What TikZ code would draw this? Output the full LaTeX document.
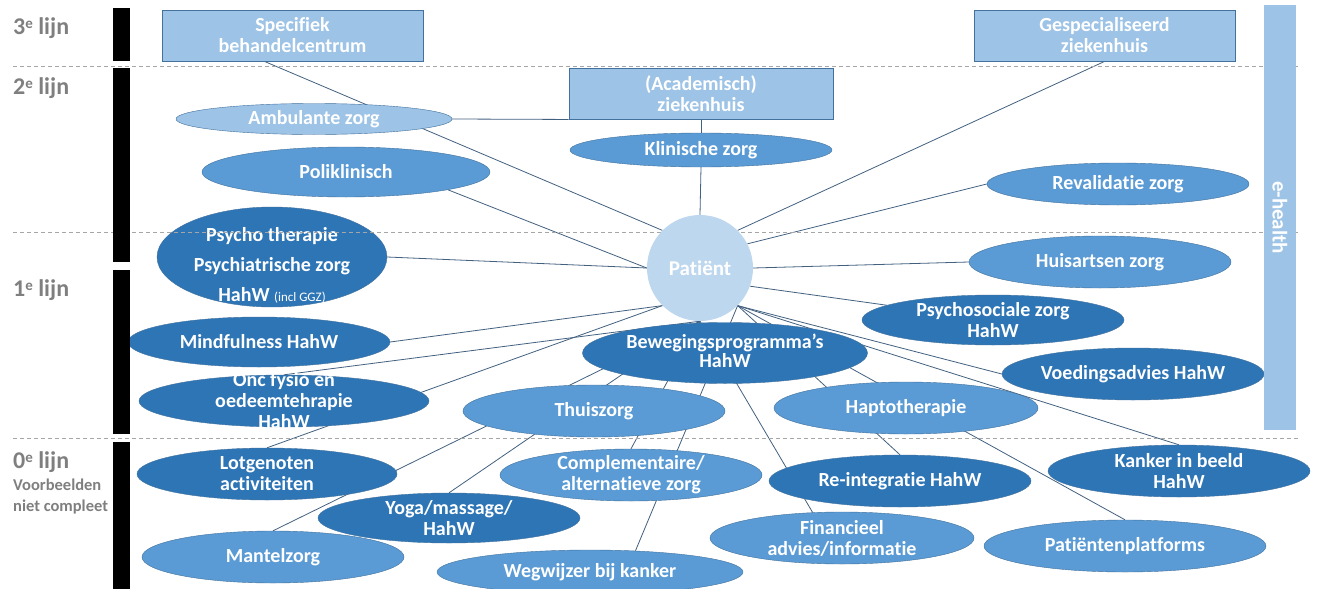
\documentclass[tikz,border=0pt]{standalone}
\usepackage{fontspec}
\setmainfont{Carlito}[Ligatures=NoCommon]
\usetikzlibrary{shapes.geometric,backgrounds}

\definecolor{lightb}{HTML}{9DC3E6}
\definecolor{patb}{HTML}{BDD7EE}
\definecolor{medb}{HTML}{5B9BD5}
\definecolor{darkb}{HTML}{2E75B6}
\definecolor{edgeb}{HTML}{41719C}
\definecolor{linec}{HTML}{42607F}
\definecolor{sepc}{HTML}{A6A6A6}
\definecolor{lvlc}{HTML}{7F7F7F}

\tikzset{
  wh/.style 2 args={minimum width=#1pt, minimum height=#2pt},
  oval/.style={ellipse, draw=edgeb, line width=0.4pt, inner sep=0pt},
  light/.style={oval, fill=lightb},
  medium/.style={oval, fill=medb},
  dark/.style={oval, fill=darkb},
  box/.style={rectangle, fill=lightb, draw=edgeb, line width=0.9pt, inner sep=0pt},
  txt/.style={text=white, align=center, inner sep=0pt, font=\bfseries\fontsize{20}{21}\selectfont},
  lvl/.style={text=lvlc, anchor=west, inner sep=0pt, font=\bfseries\fontsize{24}{26}\selectfont},
  note/.style={text=lvlc, anchor=west, inner sep=0pt, font=\bfseries\fontsize{16.5}{18}\selectfont},
  conn/.style={draw=linec, line width=0.8pt},
  sep/.style={draw=sepc, line width=1pt, dash pattern=on 4pt off 3pt},
}

\begin{document}
\begin{tikzpicture}[x=1pt,y=-1pt]
\useasboundingbox (0,0) rectangle (1320,589);

% 3e lijn
\node[box, wh={261}{51}, label={[txt]center:{Specifiek\\behandelcentrum}}] (spec) at (292.5,35.5) {};
\node[box, wh={261}{51}, label={[txt]center:{Gespecialiseerd\\ziekenhuis}}] (gesp) at (1104.5,35.5) {};
\node[box, wh={264}{51}, label={[txt]center:{(Academisch)\\ziekenhuis}}] (acad) at (701,93.5) {};

\node[dark, wh={230}{100}, label={[txt, yshift=-8pt, font=\bfseries\fontsize{20}{30}\selectfont]center:{Psycho therapie\\Psychiatrische zorg\\HahW {\mdseries\fontsize{13}{30}\selectfont (incl GGZ)}}}] (psych) at (272,257) {};

% lijnen tussen de niveaus
\draw[sep] (13,66) -- (1298,66);
\draw[sep] (13,232) -- (1298,232);
\draw[sep] (13,438) -- (1298,438);

% 2e lijn
\node[light, wh={276}{31}, label={[txt]center:Ambulante zorg}] (amb) at (314,119) {};
\node[medium, wh={262}{34}, label={[txt]center:Klinische zorg}] (klin) at (701,150) {};
\node[medium, wh={288}{50}, label={[txt]center:Poliklinisch}] (poli) at (346,172) {};
\node[medium, wh={262}{42}, label={[txt]center:Revalidatie zorg}] (reval) at (1118,184) {};

% 1e lijn
\node[circle, fill=patb, minimum size=106pt, inner sep=0pt, label={[txt, font=\bfseries\fontsize{21}{22}\selectfont]center:Patiënt}] (pat) at (700,268) {};
\node[medium, wh={262}{52}, label={[txt]center:Huisartsen zorg}] (huis) at (1100,262) {};
\node[dark, wh={262}{50}, label={[txt]center:{Psychosociale zorg\\HahW}}] (psy) at (993,320) {};
\node[dark, wh={262}{50}, label={[txt]center:Mindfulness HahW}] (mindf) at (259,342) {};
\node[dark, wh={285}{61}, label={[txt, yshift=2pt, font=\bfseries\fontsize{20}{17}\selectfont]center:{Bewegingsprogramma’s\\HahW}}] (beweg) at (725,353) {};
\node[dark, wh={262}{52}, label={[txt]center:Voedingsadvies HahW}] (voed) at (1133,374) {};
\node[dark, wh={290}{52}, label={[txt]center:{Onc fysio en\\oedeemtehrapie\\HahW}}] (oncf) at (284,401) {};
\node[medium, wh={262}{52}, label={[txt]center:Thuiszorg}] (thuis) at (594,411) {};
\node[medium, wh={264}{52}, label={[txt]center:Haptotherapie}] (hapto) at (906,408) {};

% 0e lijn
\node[dark, wh={260}{52}, label={[txt]center:{Lotgenoten\\activiteiten}}] (lotg) at (267,474) {};
\node[medium, wh={262}{52}, label={[txt]center:{Complementaire/\\alternatieve zorg}}] (comp) at (631,475) {};
\node[dark, wh={262}{52}, label={[txt]center:Re-integratie HahW}] (reint) at (900,481) {};
\node[dark, wh={262}{52}, label={[txt]center:{Kanker in beeld\\HahW}}] (kanker) at (1179,471) {};
\node[dark, wh={262}{50}, label={[txt]center:{Yoga/massage/\\HahW}}] (yoga) at (449,518) {};
\node[medium, wh={264}{52}, label={[txt]center:{Financieel\\advies/informatie}}] (fin) at (842,538) {};
\node[medium, wh={282}{52}, label={[txt]center:Patiëntenplatforms}] (platf) at (1125,546) {};
\node[medium, wh={262}{52}, label={[txt]center:Mantelzorg}] (mantel) at (273,557) {};
\node[medium, wh={306}{44}, label={[txt]center:Wegwijzer bij kanker}] (weg) at (590,572) {};

\node[fill=lightb, rotate=-90, minimum width=425pt, minimum height=32pt, inner sep=0pt, txt, font=\bfseries\fontsize{21}{23}\selectfont] (ehealth) at (1280,217.5) {e-health};

% niveaus links
\fill (113,8) rectangle (130,61);
\fill (113,68) rectangle (130,262);
\fill (113,270) rectangle (130,434);
\fill (113,442) rectangle (130,589);
\node[lvl] (l3) at (13,28) {3{\fontsize{15}{15}\selectfont\raisebox{6pt}{e}} lijn};
\node[lvl] (l2) at (13,88) {2{\fontsize{15}{15}\selectfont\raisebox{6pt}{e}} lijn};
\node[lvl] (l1) at (13,290) {1{\fontsize{15}{15}\selectfont\raisebox{6pt}{e}} lijn};
\node[lvl] (l0) at (13,462) {0{\fontsize{15}{15}\selectfont\raisebox{6pt}{e}} lijn};
\node[note] (vb) at (13,485) {Voorbeelden};
\node[note] (nc) at (13,507) {niet compleet};

\begin{scope}[on background layer]
\draw[conn] ([xshift=103pt]spec.south west) -- (pat.north west);
\draw[conn] (gesp.south) -- (pat.north east);
\draw[conn] (amb.east) -- (acad.south west);
\draw[conn] (acad.south) -- (klin.north);
\draw[conn] (klin.south) -- (pat.north);
\draw[conn] (poli.south east) -- (pat.west);
\draw[conn] (psych.east) -- (pat.west);
\draw[conn] (reval.west) -- (pat.27);
\draw[conn] (huis.west) -- (pat.east);
\draw[conn] (pat.-20) -- (psy);
\draw[conn] (mindf.east) -- (pat.south west);
\draw[conn] (lotg.north) -- (pat.south west);
\draw[conn] (oncf.north) -- (pat.south);
\draw[conn] (mantel.north) -- (pat.south);
\draw[conn] (yoga.north) -- (pat.south);
\draw[conn] (comp.north) -- (pat.south);
\draw[conn] (fin.139) -- (pat.south);
\draw[conn] (weg.25) -- (pat.south east);
\draw[conn] (reint.north) -- (pat.south east);
\draw[conn] (platf.north) -- (pat.south east);
\draw[conn] (kanker.north) -- (pat.south east);
\draw[conn] (voed.west) -- (pat.south east);
\end{scope}
\end{tikzpicture}
\end{document}
